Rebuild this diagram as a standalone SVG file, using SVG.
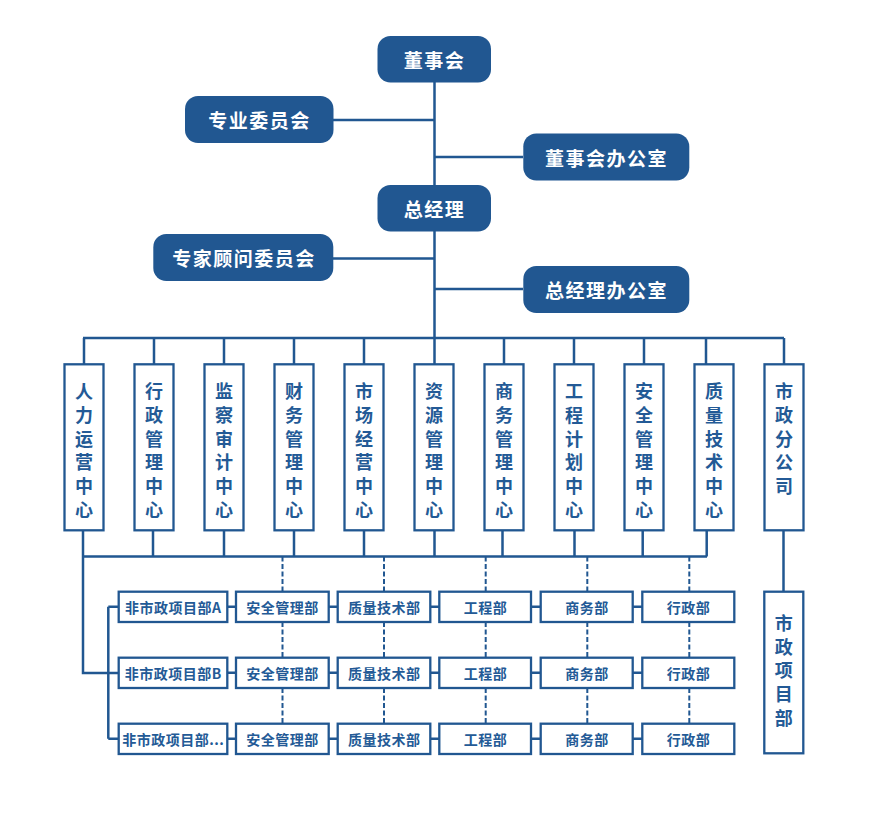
<svg xmlns="http://www.w3.org/2000/svg" width="873" height="817" viewBox="0 0 873 817">
<defs>
<style>
.solid{fill:#215791;stroke:none}
.st{fill:#ffffff;font-family:"Noto Sans CJK SC","Noto Sans",sans-serif;font-weight:700;font-size:19px;letter-spacing:1.5px;text-anchor:middle;dominant-baseline:central}
.ob{fill:#ffffff;stroke:#215791;stroke-width:2.3}
.vt{fill:#235a96;font-family:"Noto Sans CJK SC","Noto Sans",sans-serif;font-weight:700;font-size:18px;text-anchor:middle;dominant-baseline:central}
.rt{fill:#235a96;font-family:"Noto Sans CJK SC","Noto Sans",sans-serif;font-weight:700;font-size:14px;letter-spacing:0.5px;text-anchor:middle;dominant-baseline:central}
.ln{fill:none;stroke:#215791;stroke-width:2.5}
.dl{fill:none;stroke:#215791;stroke-width:2;stroke-dasharray:5 2.5}
</style>
</defs>
<rect width="873" height="817" fill="#ffffff"/>

<g id="connectors">
<path class="ln" d="M434.5 82 V364 M333 120 H434.5 M434.5 157 H523 M333 258.5 H434.5 M434.5 289 H523"/>
<path class="ln" d="M83 338 H784 M84 338 V364 M154 338 V364 M224 338 V364 M294 338 V364 M364 338 V364 M504 338 V364 M574 338 V364 M644 338 V364 M706 338 V364 M784 338 V364"/>
<path class="ln" d="M83 556.5 H707 M83 530 V673 H118.7 M153 530 V556.5 M224 530 V556.5 M294 530 V556.5 M364 530 V556.5 M434.5 530 V556.5 M502.5 530 V556.5 M574.5 530 V556.5 M642.7 530 V556.5 M706.7 530 V556.5"/>
<path class="ln" d="M108.3 606.8 V738.8 M108.3 606.8 H118.7 M108.3 738.8 H118.7"/>
<path class="ln" d="M783.5 530 V591.7"/>
<path class="ln" d="M227.3 606.8 H236 M328.7 606.8 H337.7 M430.3 606.8 H439.3 M531 606.8 H540.7 M632.7 606.8 H642.3"/>
<path class="ln" d="M227.3 672.8 H236 M328.7 672.8 H337.7 M430.3 672.8 H439.3 M531 672.8 H540.7 M632.7 672.8 H642.3"/>
<path class="ln" d="M227.3 738.8 H236 M328.7 738.8 H337.7 M430.3 738.8 H439.3 M531 738.8 H540.7 M632.7 738.8 H642.3"/>
<path class="dl" d="M282.5 556.5 V591.7 M282.5 622 V657.7 M282.5 688 V723.7"/>
<path class="dl" d="M384 556.5 V591.7 M384 622 V657.7 M384 688 V723.7"/>
<path class="dl" d="M485.7 556.5 V591.7 M485.7 622 V657.7 M485.7 688 V723.7"/>
<path class="dl" d="M587.3 556.5 V591.7 M587.3 622 V657.7 M587.3 688 V723.7"/>
<path class="dl" d="M689.3 556.5 V591.7 M689.3 622 V657.7 M689.3 688 V723.7"/>
</g>

<g id="n-board"><rect class="solid" x="377.5" y="36" width="113.5" height="46.5" rx="13"/><text class="st" x="434.5" y="59.5">董事会</text></g>
<g id="n-committee"><rect class="solid" x="185" y="96" width="148.5" height="47" rx="13"/><text class="st" x="259.5" y="119.5">专业委员会</text></g>
<g id="n-board-office"><rect class="solid" x="523.3" y="133.5" width="166" height="47" rx="13"/><text class="st" x="606.5" y="157">董事会办公室</text></g>
<g id="n-gm"><rect class="solid" x="377.5" y="185" width="113.5" height="46.5" rx="13"/><text class="st" x="434.5" y="208.5">总经理</text></g>
<g id="n-expert"><rect class="solid" x="153.3" y="234" width="180" height="47" rx="13"/><text class="st" x="244" y="257.5">专家顾问委员会</text></g>
<g id="n-gm-office"><rect class="solid" x="523.3" y="266" width="166" height="47" rx="13"/><text class="st" x="606.5" y="289.5">总经理办公室</text></g>

<g id="c1"><rect class="ob" x="64.5" y="364.3" width="39" height="166"/><text class="vt"><tspan x="84" y="390">人</tspan><tspan x="84" dy="23.8">力</tspan><tspan x="84" dy="23.8">运</tspan><tspan x="84" dy="23.8">营</tspan><tspan x="84" dy="23.8">中</tspan><tspan x="84" dy="23.8">心</tspan></text></g>
<g id="c2"><rect class="ob" x="134.5" y="364.3" width="39" height="166"/><text class="vt"><tspan x="154" y="390">行</tspan><tspan x="154" dy="23.8">政</tspan><tspan x="154" dy="23.8">管</tspan><tspan x="154" dy="23.8">理</tspan><tspan x="154" dy="23.8">中</tspan><tspan x="154" dy="23.8">心</tspan></text></g>
<g id="c3"><rect class="ob" x="204.5" y="364.3" width="39" height="166"/><text class="vt"><tspan x="224" y="390">监</tspan><tspan x="224" dy="23.8">察</tspan><tspan x="224" dy="23.8">审</tspan><tspan x="224" dy="23.8">计</tspan><tspan x="224" dy="23.8">中</tspan><tspan x="224" dy="23.8">心</tspan></text></g>
<g id="c4"><rect class="ob" x="274.5" y="364.3" width="39" height="166"/><text class="vt"><tspan x="294" y="390">财</tspan><tspan x="294" dy="23.8">务</tspan><tspan x="294" dy="23.8">管</tspan><tspan x="294" dy="23.8">理</tspan><tspan x="294" dy="23.8">中</tspan><tspan x="294" dy="23.8">心</tspan></text></g>
<g id="c5"><rect class="ob" x="344.5" y="364.3" width="39" height="166"/><text class="vt"><tspan x="364" y="390">市</tspan><tspan x="364" dy="23.8">场</tspan><tspan x="364" dy="23.8">经</tspan><tspan x="364" dy="23.8">营</tspan><tspan x="364" dy="23.8">中</tspan><tspan x="364" dy="23.8">心</tspan></text></g>
<g id="c6"><rect class="ob" x="414.5" y="364.3" width="39" height="166"/><text class="vt"><tspan x="434" y="390">资</tspan><tspan x="434" dy="23.8">源</tspan><tspan x="434" dy="23.8">管</tspan><tspan x="434" dy="23.8">理</tspan><tspan x="434" dy="23.8">中</tspan><tspan x="434" dy="23.8">心</tspan></text></g>
<g id="c7"><rect class="ob" x="484.5" y="364.3" width="39" height="166"/><text class="vt"><tspan x="504" y="390">商</tspan><tspan x="504" dy="23.8">务</tspan><tspan x="504" dy="23.8">管</tspan><tspan x="504" dy="23.8">理</tspan><tspan x="504" dy="23.8">中</tspan><tspan x="504" dy="23.8">心</tspan></text></g>
<g id="c8"><rect class="ob" x="554.5" y="364.3" width="39" height="166"/><text class="vt"><tspan x="574" y="390">工</tspan><tspan x="574" dy="23.8">程</tspan><tspan x="574" dy="23.8">计</tspan><tspan x="574" dy="23.8">划</tspan><tspan x="574" dy="23.8">中</tspan><tspan x="574" dy="23.8">心</tspan></text></g>
<g id="c9"><rect class="ob" x="624.5" y="364.3" width="39" height="166"/><text class="vt"><tspan x="644" y="390">安</tspan><tspan x="644" dy="23.8">全</tspan><tspan x="644" dy="23.8">管</tspan><tspan x="644" dy="23.8">理</tspan><tspan x="644" dy="23.8">中</tspan><tspan x="644" dy="23.8">心</tspan></text></g>
<g id="c10"><rect class="ob" x="694.5" y="364.3" width="39" height="166"/><text class="vt"><tspan x="714" y="390">质</tspan><tspan x="714" dy="23.8">量</tspan><tspan x="714" dy="23.8">技</tspan><tspan x="714" dy="23.8">术</tspan><tspan x="714" dy="23.8">中</tspan><tspan x="714" dy="23.8">心</tspan></text></g>
<g id="c11"><rect class="ob" x="764.5" y="364.3" width="39" height="166"/><text class="vt"><tspan x="784" y="390">市</tspan><tspan x="784" dy="23.8">政</tspan><tspan x="784" dy="23.8">分</tspan><tspan x="784" dy="23.8">公</tspan><tspan x="784" dy="23.8">司</tspan></text></g>

<g id="m-proj"><rect class="ob" x="764.3" y="591.7" width="39" height="161.6"/><text class="vt"><tspan x="783.8" y="621.7">市</tspan><tspan x="783.8" dy="23.8">政</tspan><tspan x="783.8" dy="23.8">项</tspan><tspan x="783.8" dy="23.8">目</tspan><tspan x="783.8" dy="23.8">部</tspan></text></g>

<g id="rA-proj"><rect class="ob" x="118.7" y="591.7" width="108.6" height="30.3"/><text class="rt" x="173.3" y="606.8">非市政项目部A</text></g>
<g id="rA-safe"><rect class="ob" x="236" y="591.7" width="92.7" height="30.3"/><text class="rt" x="282.6" y="606.8">安全管理部</text></g>
<g id="rA-qual"><rect class="ob" x="337.7" y="591.7" width="92.6" height="30.3"/><text class="rt" x="384.3" y="606.8">质量技术部</text></g>
<g id="rA-eng"><rect class="ob" x="439.3" y="591.7" width="91.7" height="30.3"/><text class="rt" x="485.4" y="606.8">工程部</text></g>
<g id="rA-biz"><rect class="ob" x="540.7" y="591.7" width="92" height="30.3"/><text class="rt" x="586.9" y="606.8">商务部</text></g>
<g id="rA-adm"><rect class="ob" x="642.3" y="591.7" width="92" height="30.3"/><text class="rt" x="688.5" y="606.8">行政部</text></g>

<g id="rB-proj"><rect class="ob" x="118.7" y="657.7" width="108.6" height="30.3"/><text class="rt" x="173.3" y="672.8">非市政项目部B</text></g>
<g id="rB-safe"><rect class="ob" x="236" y="657.7" width="92.7" height="30.3"/><text class="rt" x="282.6" y="672.8">安全管理部</text></g>
<g id="rB-qual"><rect class="ob" x="337.7" y="657.7" width="92.6" height="30.3"/><text class="rt" x="384.3" y="672.8">质量技术部</text></g>
<g id="rB-eng"><rect class="ob" x="439.3" y="657.7" width="91.7" height="30.3"/><text class="rt" x="485.4" y="672.8">工程部</text></g>
<g id="rB-biz"><rect class="ob" x="540.7" y="657.7" width="92" height="30.3"/><text class="rt" x="586.9" y="672.8">商务部</text></g>
<g id="rB-adm"><rect class="ob" x="642.3" y="657.7" width="92" height="30.3"/><text class="rt" x="688.5" y="672.8">行政部</text></g>

<g id="rC-proj"><rect class="ob" x="118.7" y="723.7" width="108.6" height="30.3"/><text class="rt" x="173.3" y="738.8">非市政项目部...</text></g>
<g id="rC-safe"><rect class="ob" x="236" y="723.7" width="92.7" height="30.3"/><text class="rt" x="282.6" y="738.8">安全管理部</text></g>
<g id="rC-qual"><rect class="ob" x="337.7" y="723.7" width="92.6" height="30.3"/><text class="rt" x="384.3" y="738.8">质量技术部</text></g>
<g id="rC-eng"><rect class="ob" x="439.3" y="723.7" width="91.7" height="30.3"/><text class="rt" x="485.4" y="738.8">工程部</text></g>
<g id="rC-biz"><rect class="ob" x="540.7" y="723.7" width="92" height="30.3"/><text class="rt" x="586.9" y="738.8">商务部</text></g>
<g id="rC-adm"><rect class="ob" x="642.3" y="723.7" width="92" height="30.3"/><text class="rt" x="688.5" y="738.8">行政部</text></g>
</svg>
